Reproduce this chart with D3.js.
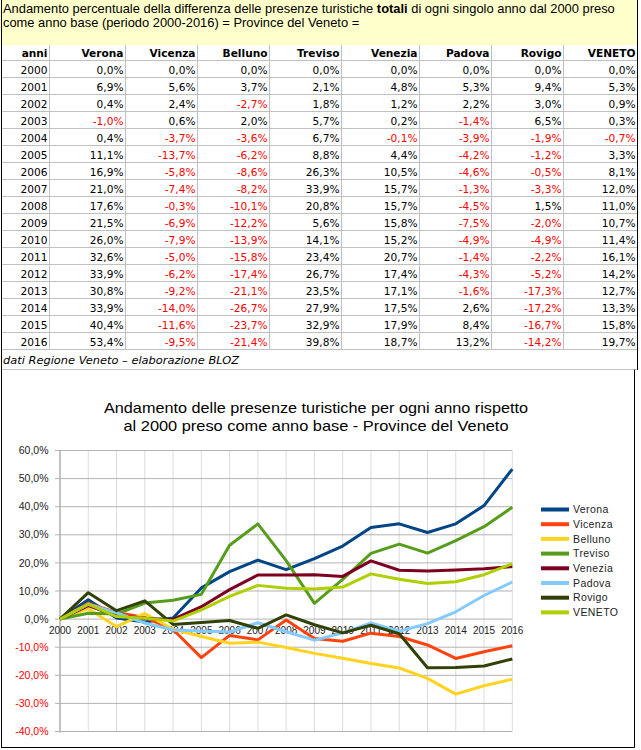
<!DOCTYPE html>
<html><head><meta charset="utf-8">
<script src="https://cdn.jsdelivr.net/npm/d3@7"></script>
<style>body{margin:0;background:#fff} svg{display:block}</style>
</head><body><svg id="c" width="641" height="750"></svg>
<script>
// ---------- DATA ----------
const years = [2000,2001,2002,2003,2004,2005,2006,2007,2008,2009,2010,2011,2012,2013,2014,2015,2016];
const provinces = ["Verona","Vicenza","Belluno","Treviso","Venezia","Padova","Rovigo","VENETO"];
const verona  = [0.0,6.9,0.4,-1.0,0.4,11.1,16.9,21.0,17.6,21.5,26.0,32.6,33.9,30.8,33.9,40.4,53.4];
const vicenza = [0.0,5.6,2.4,0.6,-3.7,-13.7,-5.8,-7.4,-0.3,-6.9,-7.9,-5.0,-6.2,-9.2,-14.0,-11.6,-9.5];
const belluno = [0.0,3.7,-2.7,2.0,-3.6,-6.2,-8.6,-8.2,-10.1,-12.2,-13.9,-15.8,-17.4,-21.1,-26.7,-23.7,-21.4];
const treviso = [0.0,2.1,1.8,5.7,6.7,8.8,26.3,33.9,20.8,5.6,14.1,23.4,26.7,23.5,27.9,32.9,39.8];
const venezia = [0.0,4.8,1.2,0.2,-0.1,4.4,10.5,15.7,15.7,15.8,15.2,20.7,17.4,17.1,17.5,17.9,18.7];
const padova  = [0.0,5.3,2.2,-1.4,-3.9,-4.2,-4.6,-1.3,-4.5,-7.5,-4.9,-1.4,-4.3,-1.6,2.6,8.4,13.2];
const rovigo  = [0.0,9.4,3.0,6.5,-1.9,-1.2,-0.5,-3.3,1.5,-2.0,-4.9,-2.2,-5.2,-17.3,-17.2,-16.7,-14.2];
const veneto  = [0.0,5.3,0.9,0.3,-0.7,3.3,8.1,12.0,11.0,10.7,11.4,16.1,14.2,12.7,13.3,15.8,19.7];
const yTicks = [-40,-30,-20,-10,0,10,20,30,40,50,60];
const colors = ["#004586","#ff420e","#ffd320","#579d1c","#7e0021","#83caff","#314004","#aecf00"];

const seriesValues = [verona,vicenza,belluno,treviso,venezia,padova,rovigo,veneto];
const series = provinces.map((p,i)=>({name:p,color:colors[i],values:seriesValues[i]}));

const svg = d3.select("#c");
const locale = d3.formatLocale({decimal:",",thousands:".",grouping:[3],currency:["","€"],minus:"-"});
const fmt = v => locale.format(".1f")(v)+"%";

// ---------- HEADER ----------
svg.append("rect").attr("x",0).attr("y",0).attr("width",638).attr("height",45).attr("fill","#ffffcc");
const hFont = "'Liberation Sans',Arial,sans-serif";
const h1 = svg.append("text").attr("x",3).attr("y",13).attr("font-family",hFont).attr("font-size",12.9).attr("fill","#000");
h1.append("tspan").text("Andamento percentuale della differenza delle presenze turistiche ");
h1.append("tspan").attr("font-weight","bold").text("totali");
h1.append("tspan").text(" di ogni singolo anno dal 2000 preso");
svg.append("text").attr("x",3).attr("y",27).attr("font-family",hFont).attr("font-size",12.9).attr("fill","#000")
  .text("come anno base (periodo 2000-2016) = Province del Veneto =");

// ---------- TABLE ----------
const colEdges = [1.5,49.5,125.5,197.5,269.5,341.5,419.5,491.5,563.5,637.5];
const rowY = d3.scaleBand().domain(years).range([60.5,349.5]);
const tFont = "'DejaVu Sans',Verdana,sans-serif", tSize = 10.6;
const grid = svg.append("g").attr("stroke","#c0c0c0").attr("stroke-width",1);
[60.5, ...years.map(y=>rowY(y)+rowY.bandwidth())].forEach(yy=>{
  grid.append("line").attr("x1",1.5).attr("x2",637.5).attr("y1",yy).attr("y2",yy);
});
grid.append("line").attr("x1",1.5).attr("x2",637.5).attr("y1",369.5).attr("y2",369.5);
colEdges.slice(1,-1).forEach(xx=>{
  grid.append("line").attr("x1",xx).attr("x2",xx).attr("y1",45).attr("y2",349.5);
});
const headers = ["anni", ...provinces];
headers.forEach((h,i)=>{
  svg.append("text").attr("x",colEdges[i+1]-2).attr("y",57).attr("text-anchor","end")
    .attr("font-family",tFont).attr("font-size",tSize).attr("font-weight","bold").attr("fill","#000").text(h);
});
years.forEach((yr,r)=>{
  const base = rowY(yr)+rowY.bandwidth()-4;
  svg.append("text").attr("x",colEdges[1]-2).attr("y",base).attr("text-anchor","end")
    .attr("font-family",tFont).attr("font-size",tSize).attr("fill","#000").text(yr);
  series.forEach((s,i)=>{
    const v = s.values[r];
    svg.append("text").attr("x",colEdges[i+2]-2).attr("y",base).attr("text-anchor","end")
      .attr("font-family",tFont).attr("font-size",tSize).attr("fill", v<0?"#ff0000":"#000").text(fmt(v));
  });
});
svg.append("text").attr("x",3).attr("y",364).attr("font-family",tFont).attr("font-size",11.3)
  .attr("font-style","italic").attr("fill","#000").attr("textLength",236).attr("lengthAdjust","spacingAndGlyphs")
  .text("dati Regione Veneto \u2013 elaborazione BLOZ");

// frame lines
svg.append("line").attr("x1",1.5).attr("x2",1.5).attr("y1",0).attr("y2",748).attr("stroke","#000");
svg.append("line").attr("x1",637.5).attr("x2",637.5).attr("y1",0).attr("y2",370).attr("stroke","#000");
svg.append("line").attr("x1",634.5).attr("x2",634.5).attr("y1",369.5).attr("y2",747.5).attr("stroke","#000");
svg.append("line").attr("x1",1.5).attr("x2",634.5).attr("y1",747.5).attr("y2",747.5).attr("stroke","#000");

// ---------- CHART ----------
const x = d3.scalePoint().domain(years).range([60,512.3]);
const y = d3.scaleLinear().domain([-40,60]).range([731.5,450.5]);
const cFont = "'Liberation Sans',Arial,sans-serif";

svg.append("text").attr("x",316).attr("y",413).attr("text-anchor","middle").attr("font-family",cFont)
  .attr("font-size",15).attr("fill","#000").attr("textLength",424).attr("lengthAdjust","spacingAndGlyphs")
  .text("Andamento delle presenze turistiche per ogni anno rispetto");
svg.append("text").attr("x",316).attr("y",431).attr("text-anchor","middle").attr("font-family",cFont)
  .attr("font-size",15).attr("fill","#000").attr("textLength",385).attr("lengthAdjust","spacingAndGlyphs")
  .text("al 2000 preso come anno base - Province del Veneto");

const cg = svg.append("g");
cg.selectAll(".vg").data(years).join("line")
  .attr("x1",d=>x(d)).attr("x2",d=>x(d)).attr("y1",y(60)).attr("y2",y(-40))
  .attr("stroke","#dcdcdc").attr("stroke-width",1);
cg.selectAll(".hg").data(yTicks).join("line")
  .attr("x1",55).attr("x2",x(2016)).attr("y1",d=>y(d)).attr("y2",d=>y(d))
  .attr("stroke","#b3b3b3").attr("stroke-width",1);
cg.append("line").attr("x1",x(2000)).attr("x2",x(2000)).attr("y1",y(60)).attr("y2",y(-40)+1)
  .attr("stroke","#b3b3b3").attr("stroke-width",1.5);
cg.selectAll(".yl").data(yTicks).join("text")
  .attr("x",48.5).attr("y",d=>y(d)).attr("dy","0.35em").attr("text-anchor","end")
  .attr("font-family",cFont).attr("font-size",10.5).attr("fill",d=>d<0?"#ff0000":"#222")
  .text(d=>fmt(d));
cg.selectAll(".xl").data(years).join("text")
  .attr("x",d=>x(d)).attr("y",y(0)+15).attr("text-anchor","middle")
  .attr("font-family",cFont).attr("font-size",10).attr("fill","#222").text(d=>d);
const line = d3.line().x((d,i)=>x(years[i])).y(d=>y(d));
cg.selectAll(".ln").data(series).join("path")
  .attr("d",d=>line(d.values)).attr("fill","none").attr("stroke",d=>d.color)
  .attr("stroke-width",3).attr("stroke-linejoin","round");
const lg = svg.append("g");
series.forEach((s,i)=>{
  const ly = 509.5 + i*14.7;
  lg.append("line").attr("x1",541).attr("x2",569).attr("y1",ly).attr("y2",ly).attr("stroke",s.color).attr("stroke-width",4);
  lg.append("text").attr("x",573).attr("y",ly).attr("dy","0.35em").attr("font-family",cFont)
    .attr("font-size",10.5).attr("letter-spacing",0.4).attr("fill","#222").text(s.name);
});
</script></body></html>
